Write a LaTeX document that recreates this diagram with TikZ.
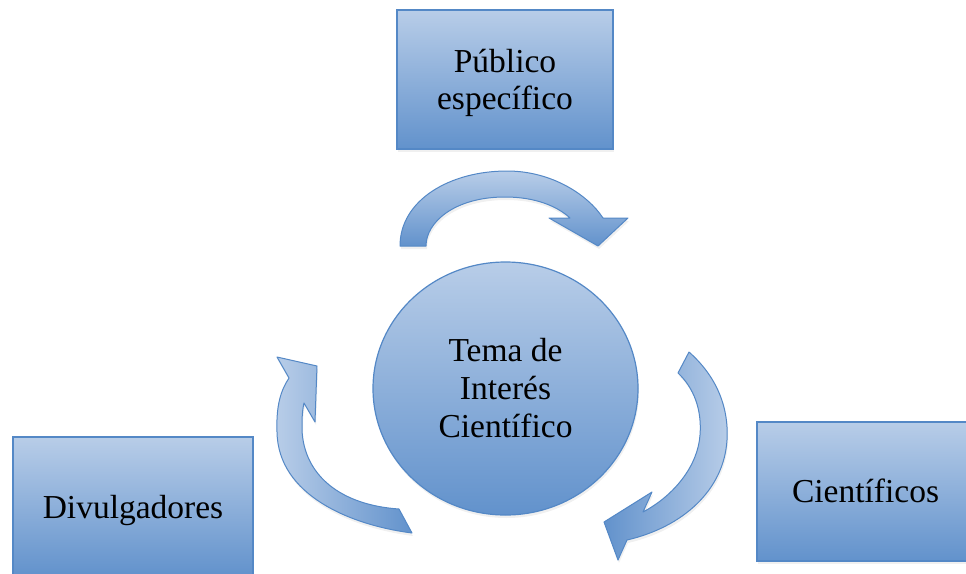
\documentclass[tikz,border=0pt]{standalone}
\usepackage{fontspec}
\setmainfont{Liberation Serif}
\usetikzlibrary{shadows,shapes.geometric}
\definecolor{fillT}{RGB}{184,205,232}
\definecolor{fillB}{RGB}{98,146,204}
\definecolor{edgeC}{RGB}{84,136,198}
\tikzset{
  softshadow/.style={drop shadow={opacity=0.12, shadow xshift=1pt, shadow yshift=-3pt}},
  boxshape/.style={rectangle, draw=edgeC, line width=1.2pt, top color=fillT, bottom color=fillB,
    softshadow, inner sep=0pt},
  boxtext/.style={inner sep=0pt, align=center, font=\fontsize{33.5}{37.5}\selectfont},
  hubshape/.style={ellipse, draw=edgeC, line width=1.2pt, top color=fillT, bottom color=fillB,
    softshadow, inner sep=0pt, align=center, font=\fontsize{33.5}{38}\selectfont},
  arrowshape/.style={draw=edgeC, line width=1pt, line join=round, softshadow},
}
\begin{document}
\begin{tikzpicture}[x=1pt,y=-1pt]
\useasboundingbox (0,0) rectangle (966,573);
\clip (0,0) rectangle (966,573);

% boxes
\node[boxshape, minimum width=216pt, minimum height=139pt] (pub) at (505,79.5) {};
\node[boxshape, minimum width=240pt, minimum height=139pt] (div) at (133,506.5) {};
\node[boxshape, minimum width=216pt, minimum height=139pt] (cie) at (865,491.5) {};
\node[boxtext] (pubt) at (505,83) {Público\\específico};
\node[boxtext, anchor=base] (divt) at (133,518) {Divulgadores};
\node[boxtext, anchor=base] (ciet) at (865.5,502) {Científicos};

% central circle
\node[hubshape, minimum width=265pt, minimum height=253pt] (hub) at (505.5,388.5) {Tema de\\Interés\\Científico};

% top arrow
\path[arrowshape, top color=fillT, bottom color=fillB]
  (400,246) .. controls (400,200) and (450,171) .. (507,171)
  .. controls (552,171) and (588,195) .. (603,218)
  -- (628,218) -- (598,246) -- (549,218) -- (570,218)
  .. controls (557,206) and (535,197) .. (505,197)
  .. controls (455,197) and (426,222) .. (426,246) -- cycle;

% right arrow
\path[arrowshape, left color=fillB, right color=fillT]
  (689,352) .. controls (715,375) and (729,405) .. (727,440)
  .. controls (724,490) and (683,527) .. (627,540)
  -- (618,560) -- (604,522) -- (652,492) -- (643,512)
  .. controls (675,495) and (698,465) .. (700,435)
  .. controls (702,410) and (694,388) .. (678,373) -- cycle;

% left arrow
\path[arrowshape, left color=fillT, right color=fillB]
  (412,533) .. controls (350,525) and (278,495) .. (277,432)
  .. controls (276,405) and (281,390) .. (289,378)
  -- (277,357) -- (317,366) -- (315,422) -- (304,403)
  .. controls (302,412) and (302,420) .. (302,430)
  .. controls (304,475) and (340,505) .. (399,509) -- cycle;
\end{tikzpicture}
\end{document}
